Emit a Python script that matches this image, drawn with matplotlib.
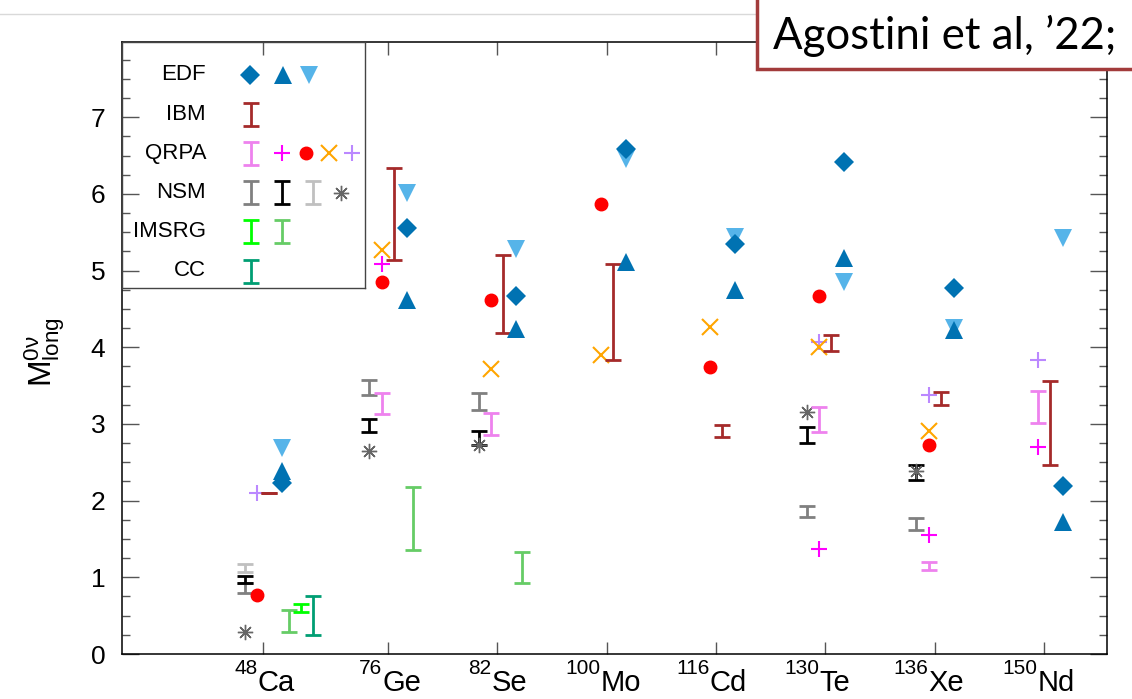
import matplotlib
matplotlib.use('Agg')
import matplotlib.pyplot as plt
import numpy as np
from matplotlib.patches import Rectangle
from matplotlib.lines import Line2D
from matplotlib.ticker import MultipleLocator, FixedLocator

plt.rcParams['font.family'] = ['Liberation Sans', 'DejaVu Sans']
plt.rcParams['mathtext.fontset'] = 'custom'
plt.rcParams['mathtext.rm'] = 'Liberation Sans'
plt.rcParams['mathtext.default'] = 'regular'

nan = np.nan

# nuclei (category axis)
mass = ['48', '76', '82', '100', '116', '130', '136', '150']
elem = ['Ca', 'Ge', 'Se', 'Mo', 'Cd', 'Te', 'Xe', 'Nd']
pos = np.array([0.86, 2, 3, 4, 5, 6, 7, 8])

# EDF
edf_diamond = [2.23, 5.55, 4.67, 6.59, 5.35, 6.41, 4.77, 2.19]
edf_up = [2.38, 4.62, 4.24, 5.11, 4.75, 5.16, 4.22, 1.72]
edf_down = [2.68, 6.01, 5.28, 6.46, 5.44, 4.85, 4.25, 5.42]

# IBM ranges
ibm_lo = [2.10, 5.14, 4.19, 3.84, 2.83, 3.95, 3.25, 2.46]
ibm_hi = [2.10, 6.34, 5.20, 5.08, 2.98, 4.16, 3.41, 3.56]

# QRPA
qrpa_lo = [nan, 3.13, 2.86, nan, nan, 2.90, 1.10, 3.01]
qrpa_hi = [nan, 3.40, 3.14, nan, nan, 3.22, 1.20, 3.43]
qrpa_plus = [nan, 5.08, nan, nan, nan, 1.37, 1.55, 2.70]
qrpa_dot = [0.77, 4.85, 4.61, 5.87, 3.74, 4.67, 2.72, nan]
qrpa_cross = [nan, 5.27, 3.72, 3.90, 4.26, 4.00, 2.91, nan]
qrpa_plus2 = [2.10, nan, nan, nan, nan, 4.07, 3.38, 3.84]

# NSM
nsm_gray_lo = [0.80, 3.38, 3.18, nan, nan, 1.78, 1.62, nan]
nsm_gray_hi = [0.92, 3.57, 3.40, nan, nan, 1.93, 1.77, nan]
nsm_black_lo = [0.93, 2.89, 2.72, nan, nan, 2.75, 2.27, nan]
nsm_black_hi = [1.02, 3.07, 2.91, nan, nan, 2.96, 2.46, nan]
nsm_light_lo = [1.07, nan, nan, nan, nan, nan, nan, nan]
nsm_light_hi = [1.18, nan, nan, nan, nan, nan, nan, nan]
nsm_star = [0.29, 2.65, 2.72, nan, nan, 3.16, 2.38, nan]

# IMSRG
ims_a_lo = [0.55, nan, nan, nan, nan, nan, nan, nan]
ims_a_hi = [0.65, nan, nan, nan, nan, nan, nan, nan]
ims_b_lo = [0.29, 1.36, 0.93, nan, nan, nan, nan, nan]
ims_b_hi = [0.58, 2.18, 1.33, nan, nan, nan, nan, nan]

# CC
cc_lo = [0.25, nan, nan, nan, nan, nan, nan, nan]
cc_hi = [0.75, nan, nan, nan, nan, nan, nan, nan]

c_edf = '#0072B2'
c_edf2 = '#56B4E9'
c_ibm = '#A52A2A'
c_qrpa = '#EE82EE'
c_mag = '#FF00FF'
c_red = '#FF0000'
c_orange = '#FFA500'
c_purple = '#BB88FF'
c_gray = '#808080'
c_light = '#C0C0C0'
c_star = '#666666'
c_lime = '#00FF00'
c_green = '#66CC66'
c_cc = '#009E73'

W, H = 1132, 699
fig = plt.figure(figsize=(W / 100, H / 100), dpi=100)
ax = fig.add_axes([122 / W, 1 - 654 / H, 985 / W, 612 / H])
ax.set_xlim(-0.434, 8.578)
ax.set_ylim(0, 7.98)

BAR = dict(fmt='none', capsize=6, elinewidth=2, capthick=2)


def bars(off, lo, hi, color):
    lo = np.array(lo, float)
    hi = np.array(hi, float)
    m = ~np.isnan(lo)
    mid = (lo + hi) / 2
    ax.errorbar(pos[m] + off, mid[m], yerr=[mid[m] - lo[m], hi[m] - mid[m]],
                ecolor=color, **BAR)


def marks(off, vals, **kw):
    v = np.array(vals, float)
    m = ~np.isnan(v)
    ax.plot(pos[m] + off, v[m], ls='none', **kw)


off_nsm, off_qrpa, off_ibm, off_edf = -0.17, -0.055, 0.055, 0.174
off_ims_b, off_ims_a, off_cc = 0.23, 0.345, 0.457

STAR = (8, 2, 0)
DMS, TMS = 10, 13.5

bars(off_nsm, nsm_gray_lo, nsm_gray_hi, c_gray)
bars(off_nsm, nsm_light_lo, nsm_light_hi, c_light)
bars(off_nsm, nsm_black_lo, nsm_black_hi, 'black')
marks(off_nsm, nsm_star, marker=STAR, ms=11, mew=1.0, color=c_star)

bars(off_qrpa, qrpa_lo, qrpa_hi, c_qrpa)
marks(off_qrpa, qrpa_plus, marker='+', ms=11, mew=1.5, color=c_mag)
marks(off_qrpa, qrpa_plus2, marker='+', ms=11, mew=1.5, color=c_purple)
marks(off_qrpa, qrpa_dot, marker='o', ms=9, color=c_red)
marks(off_qrpa, qrpa_cross, marker='x', ms=11.5, mew=1.5, color=c_orange)

bars(off_ibm, ibm_lo, ibm_hi, c_ibm)

marks(off_edf, edf_down, marker='v', ms=TMS, color=c_edf2, mew=0)
marks(off_edf, edf_diamond, marker='D', ms=DMS, color=c_edf, mew=0)
marks(off_edf, edf_up, marker='^', ms=TMS, color=c_edf, mew=0)

bars(off_ims_b, ims_b_lo, ims_b_hi, c_green)
bars(off_ims_a, ims_a_lo, ims_a_hi, c_lime)
bars(off_cc, cc_lo, cc_hi, c_cc)

# axes styling
ax.xaxis.set_major_locator(FixedLocator(pos))
ax.yaxis.set_major_locator(MultipleLocator(1))
ax.yaxis.set_minor_locator(MultipleLocator(0.25))
ax.tick_params(axis='x', which='both', direction='in', top=True, bottom=True,
               length=9, width=1, color='#555555', labelbottom=False)
ax.tick_params(axis='y', which='major', direction='in', left=True, right=True,
               length=12, width=1, color='#555555', labelsize=19, pad=12)
ax.tick_params(axis='y', which='minor', direction='in', left=True, right=True,
               length=6, width=1, color='#555555')
for s in ax.spines.values():
    s.set_linewidth(1.1)

# nucleus labels with mass number as superscript
tr = ax.get_xaxis_transform()
for x, a, e in zip(pos, mass, elem):
    ax.text(x - 0.055, -0.060, e, transform=tr, ha='left', va='baseline', fontsize=21)
    ax.text(x - 0.055, -0.032, a, transform=tr, ha='right', va='baseline', fontsize=15)

fig.text(45 / W, 1 - 352 / H, r'M$^{0ν}_{long}$', rotation=90, ha='center',
         va='center', fontsize=23)

# legend panel (pixel coordinates of the picture)
lg = fig.add_axes([122 / W, 1 - 288 / H, 243 / W, 246 / H], zorder=3)
lg.set_xlim(122, 365)
lg.set_ylim(288, 42)
lg.patch.set_alpha(0)
lg.set_xticks([])
lg.set_yticks([])
for s in lg.spines.values():
    s.set_color('#444444')
    s.set_linewidth(1)

rows = ['EDF', 'IBM', 'QRPA', 'NSM', 'IMSRG', 'CC']
ry = [75 + 39.2 * i for i in range(len(rows))]
for name, y in zip(rows, ry):
    lg.text(206, y, name, ha='right', va='center', fontsize=16)


def lbar(x, y, color):
    lg.errorbar([x], [y], yerr=11.5, ecolor=color, **BAR)


lg.plot([250], [ry[0]], marker='D', ms=DMS, color=c_edf, mew=0)
lg.plot([283], [ry[0]], marker='^', ms=TMS, color=c_edf, mew=0)
lg.plot([309], [ry[0]], marker='v', ms=TMS, color=c_edf2, mew=0)
lbar(251, ry[1], c_ibm)
lbar(251, ry[2], c_qrpa)
lg.plot([282], [ry[2]], marker='+', ms=11, mew=1.5, color=c_mag)
lg.plot([306], [ry[2]], marker='o', ms=9, color=c_red)
lg.plot([329], [ry[2]], marker='x', ms=11.5, mew=1.5, color=c_orange)
lg.plot([352], [ry[2]], marker='+', ms=11, mew=1.5, color=c_purple)
lbar(251, ry[3], c_gray)
lbar(282, ry[3], 'black')
lbar(313, ry[3], c_light)
lg.plot([341], [ry[3]], marker=STAR, ms=11, mew=1.0, color=c_star)
lbar(251, ry[4], c_lime)
lbar(282, ry[4], c_green)
lbar(251, ry[5], c_cc)

# citation box in the top right corner
fig.add_artist(Line2D([0, 757 / W], [1 - 14 / H] * 2, color='#d9d9d9', lw=1))
fig.add_artist(Rectangle((757 / W, 1 - 69 / H), 400 / W, 80 / H,
                         transform=fig.transFigure, facecolor='white',
                         edgecolor='#A23B3B', lw=2.5, zorder=10))
fig.text(773 / W, 1 - 36 / H, 'Agostini et al, ’22;', ha='left', va='center',
         fontsize=31.5, family=['Lato', 'DejaVu Sans'], zorder=11)

fig.savefig('out.png', dpi=100)
